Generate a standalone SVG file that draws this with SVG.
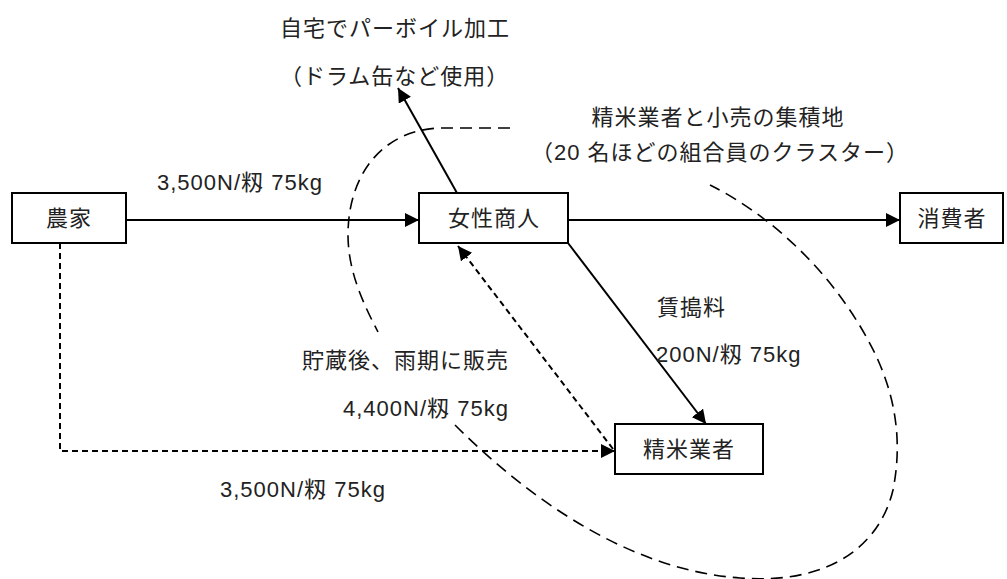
<svg xmlns="http://www.w3.org/2000/svg" width="1007" height="579" viewBox="0 0 1007 579">
<defs>
<style>
.box{fill:#fff;stroke:#000;stroke-width:2}
.t{font-family:"Liberation Sans","Noto Sans CJK JP",sans-serif;font-size:22px;fill:#222;letter-spacing:1px}
.c{text-anchor:middle}
.ln{fill:none;stroke:#000;stroke-width:2}
.dl{fill:none;stroke:#000;stroke-width:2;stroke-dasharray:6 4}
.cl{fill:none;stroke:#000;stroke-width:1.6;stroke-dasharray:12 7}
</style>
<marker id="ah" viewBox="0 0 10 10" refX="10" refY="5" markerWidth="14" markerHeight="14" markerUnits="userSpaceOnUse" orient="auto">
<path d="M0,0 L10,5 L0,10 Z" fill="#000"/>
</marker>
</defs>
<rect width="1007" height="579" fill="#fff"/>
<g id="cluster">
<path class="cl" d="M510,128 H440 C382,130 348,175 348,235 C348,272 364,305 378,332"/>
<path class="cl" d="M455,425 C530,500 630,570 740,578 C830,585 880,545 893,490 C905,430 890,380 868,340 C830,270 770,215 710,185"/>
</g>
<g id="connectors">
<line class="ln" x1="126" y1="220" x2="419" y2="220" marker-end="url(#ah)"/>
<line class="ln" x1="568" y1="220" x2="900" y2="220" marker-end="url(#ah)"/>
<line class="ln" x1="457" y1="193" x2="398" y2="88" marker-end="url(#ah)"/>
<line class="ln" x1="568" y1="243" x2="706" y2="424" marker-end="url(#ah)"/>
<line class="dl" x1="613" y1="449" x2="458" y2="246" marker-end="url(#ah)"/>
<path class="dl" d="M60,243 V451 H615" marker-end="url(#ah)"/>
</g>
<g id="node-farmer">
<rect class="box" x="12" y="193" width="114" height="50"/>
<text class="t c" x="69" y="226">農家</text>
</g>
<g id="node-trader">
<rect class="box" x="419" y="193" width="149" height="50"/>
<text class="t c" x="494" y="226">女性商人</text>
</g>
<g id="node-consumer">
<rect class="box" x="900" y="193" width="103" height="50"/>
<text class="t c" x="952" y="226">消費者</text>
</g>
<g id="node-miller">
<rect class="box" x="615" y="424" width="148" height="50"/>
<text class="t c" x="689" y="457">精米業者</text>
</g>
<g id="labels">
<text class="t" x="280" y="36">自宅でパーボイル加工</text>
<text class="t" x="280" y="84">（ドラム缶など使用）</text>
<text class="t c" x="718" y="125">精米業者と小売の集積地</text>
<text class="t c" x="720" y="160">（20 名ほどの組合員のクラスター）</text>
<text class="t" x="157" y="190">3,500N/籾 75kg</text>
<text class="t" x="657" y="315">賃搗料</text>
<text class="t" x="656" y="362">200N/籾 75kg</text>
<text class="t" x="509" y="368" text-anchor="end">貯蔵後、雨期に販売</text>
<text class="t" x="343" y="416">4,400N/籾 75kg</text>
<text class="t" x="220" y="497">3,500N/籾 75kg</text>
</g>
</svg>
